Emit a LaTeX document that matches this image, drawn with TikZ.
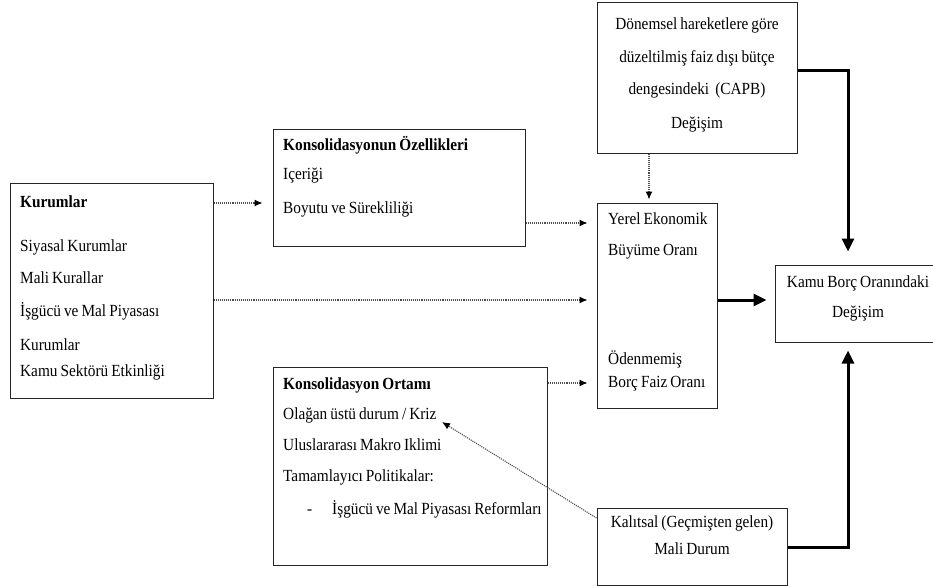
\documentclass[tikz,border=0pt]{standalone}
\usepackage{fontspec}
\setmainfont[FakeStretch=0.9,WordSpace=0.8]{Liberation Serif}
\usetikzlibrary{arrows.meta}
\begin{document}
\begin{tikzpicture}[x=1pt,y=-1pt,
  box/.style={draw=black!85, line width=1pt, fill=white, inner sep=0pt},
  txt/.style={anchor=west, inner sep=0pt, text height=12pt, text depth=3pt, font=\fontsize{17}{20}\selectfont, text=black},
  ctxt/.style={txt, anchor=center},
  btxt/.style={txt, font=\fontsize{17}{20}\selectfont\bfseries},
  dotarrow/.style={draw=black!70, line width=1.1pt, densely dotted, -{Latex[length=8pt,width=7pt,black]}},
  thick arrow/.style={draw=black, line width=3pt, -{Triangle[length=13pt,width=12pt]}}
]
\useasboundingbox (0,0) rectangle (933,586);
\fill[white] (0,0) rectangle (933,586);

% boxes
\node[box, minimum width=203pt, minimum height=215pt] (kur) at (111.5,290.5) {};
\node[box, minimum width=252pt, minimum height=117pt] (ozel) at (399,187.5) {};
\node[box, minimum width=274pt, minimum height=198pt] (ort) at (410,466) {};
\node[box, minimum width=120pt, minimum height=205pt] (yer) at (657,305.5) {};
\node[box, minimum width=200pt, minimum height=150pt] (don) at (697,78) {};
\node[box, minimum width=170pt, minimum height=77pt] (kamu) at (860,303.5) {};
\node[box, minimum width=190pt, minimum height=77pt] (kal) at (692,546.5) {};

% Kurumlar texts
\node[btxt] (k1) at (20,203) {Kurumlar};
\node[txt] (k2) at (20,247) {Siyasal Kurumlar};
\node[txt] (k3) at (20,279) {Mali Kurallar};
\node[txt] (k4) at (20,312) {İşgücü ve Mal Piyasası};
\node[txt] (k5) at (20,346) {Kurumlar};
\node[txt] (k6) at (20,372) {Kamu Sektörü Etkinliği};

% Ozellikleri texts
\node[btxt] (o1) at (283,146) {Konsolidasyonun Özellikleri};
\node[txt] (o2) at (283,175) {Içeriği};
\node[txt] (o3) at (283,209) {Boyutu ve Sürekliliği};

% Ortam texts
\node[btxt] (r1) at (283,385) {Konsolidasyon Ortamı};
\node[txt] (r2) at (283,415) {Olağan üstü durum / Kriz};
\node[txt] (r3) at (283,446) {Uluslararası Makro Iklimi};
\node[txt] (r4) at (283,477) {Tamamlayıcı Politikalar:};
\node[txt] (r5) at (307,510) {-};
\node[txt] (r6) at (332,510) {İşgücü ve Mal Piyasası Reformları};

% Yerel texts
\node[txt] (y1) at (608,220) {Yerel Ekonomik};
\node[txt] (y2) at (608,251) {Büyüme Oranı};
\node[txt] (y3) at (608,360) {Ödenmemiş};
\node[txt] (y4) at (608,383) {Borç Faiz Oranı};

% Donemsel texts
\node[ctxt] (d1) at (697,25) {Dönemsel hareketlere göre};
\node[ctxt] (d2) at (697,58) {düzeltilmiş faiz dışı bütçe};
\node[ctxt] (d3) at (697,90) {dengesindeki \ (CAPB)};
\node[ctxt] (d4) at (697,124) {Değişim};

% Kamu texts
\node[ctxt] (m1) at (858,283) {Kamu Borç Oranındaki};
\node[ctxt] (m2) at (858,313) {Değişim};

% Kalitsal texts
\node[ctxt] (l1) at (692,523) {Kalıtsal (Geçmişten gelen)};
\node[ctxt] (l2) at (692,550) {Mali Durum};

% helper coordinates
\coordinate (c1) at (0,203);
\coordinate (c2) at (0,223);
\coordinate (c3) at (0,300);
\coordinate (c4) at (0,383);
\coordinate (c5) at (649,0);
\coordinate (c6) at (0,70);
\coordinate (c7) at (848,0);
\coordinate (c8) at (0,547);
\coordinate (c9) at (0,518);
\coordinate (tip) at (442,422);

% dotted connectors
\draw[dotarrow, shorten >=10pt] (kur.east |- c1) -- (ozel.west |- c1);
\draw[dotarrow, shorten >=9pt] (ozel.east |- c2) -- (yer.west |- c2);
\draw[dotarrow, shorten >=9pt] (kur.east |- c3) -- (yer.west |- c3);
\draw[dotarrow, shorten >=9pt] (ort.east |- c4) -- (yer.west |- c4);
\draw[dotarrow, shorten >=3pt] (don.south -| c5) -- (yer.north -| c5);
\draw[dotarrow] (kal.west |- c9) -- (tip);

% thick connectors
\draw[thick arrow, shorten >=8pt] (yer.east |- c3) -- (kamu.west |- c3);
\draw[thick arrow, shorten >=13pt] (don.east |- c6) -| (kamu.north -| c7);
\draw[thick arrow, shorten >=8pt] (kal.east |- c8) -| (kamu.south -| c7);
\end{tikzpicture}
\end{document}
